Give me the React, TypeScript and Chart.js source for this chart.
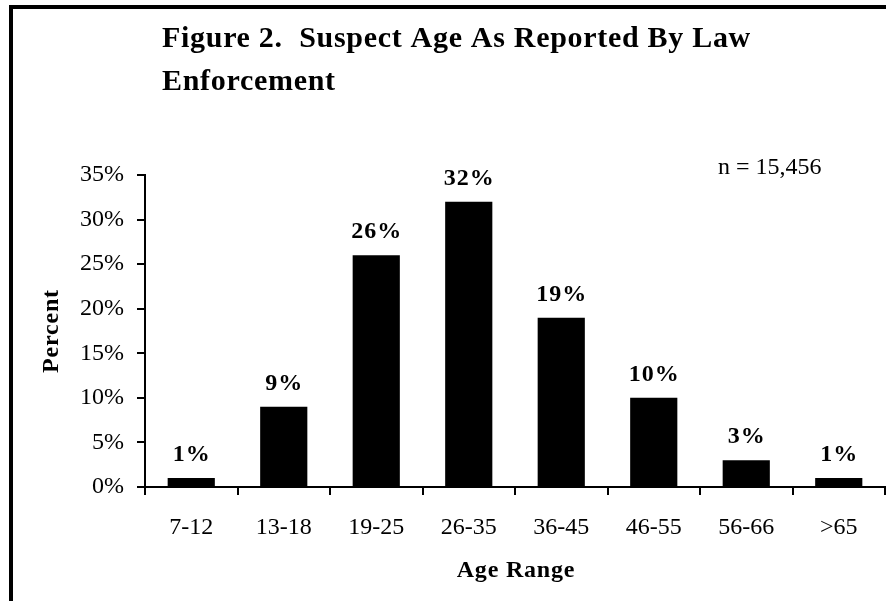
import React, { useEffect, useRef } from "react";
import { Chart, registerables } from "chart.js";

Chart.register(...registerables);

const categories = ["7-12", "13-18", "19-25", "26-35", "36-45", "46-55", "56-66", ">65"];
const percents = [1, 9, 26, 32, 19, 10, 3, 1];
const yMin = 0;
const yMax = 35;
const yStep = 5;
const titleLines = ["Figure 2.  Suspect Age As Reported By Law", "Enforcement"];
const sampleNote = "n = 15,456";
const xAxisTitle = "Age Range";
const yAxisTitle = "Percent";

const SERIF = '"Liberation Serif", "Times New Roman", serif';

const decorPlugin = {
  id: "decor",
  beforeDraw(chart: any) {
    const ctx = chart.ctx;
    ctx.save();
    ctx.fillStyle = "#fff";
    ctx.fillRect(0, 0, chart.width, chart.height);
    ctx.restore();
  },
  afterDatasetsDraw(chart: any) {
    const ctx = chart.ctx;
    const meta = chart.getDatasetMeta(0);
    ctx.save();
    ctx.fillStyle = "#000";
    ctx.font = `bold 24px ${SERIF}`;
    (ctx as any).letterSpacing = "1px";
    ctx.textAlign = "center";
    ctx.textBaseline = "alphabetic";
    meta.data.forEach((bar: any, i: number) => {
      ctx.fillText(percents[i] + "%", bar.x + 0.5, bar.y - 17);
    });
    ctx.restore();
  },
  afterDraw(chart: any) {
    const ctx = chart.ctx;
    const area = chart.chartArea;
    ctx.save();
    ctx.fillStyle = "#000";
    // frame (cut off at right and bottom)
    ctx.fillRect(9, 5, 4, chart.height - 5);
    ctx.fillRect(9, 5, chart.width - 9, 4);
    // title
    ctx.font = `bold 30px ${SERIF}`;
    (ctx as any).letterSpacing = "0.7px";
    ctx.textAlign = "left";
    ctx.textBaseline = "alphabetic";
    ctx.fillText(titleLines[0], 162, 47);
    ctx.fillText(titleLines[1], 162, 90);
    // sample note
    (ctx as any).letterSpacing = "0px";
    ctx.font = `24px ${SERIF}`;
    ctx.fillText(sampleNote, 718, 174);
    // x axis title
    ctx.font = `bold 24px ${SERIF}`;
    (ctx as any).letterSpacing = "0.8px";
    ctx.textAlign = "center";
    ctx.fillText(xAxisTitle, (area.left + area.right) / 2 + 1, 577);
    // y axis title
    ctx.translate(58, (area.top + area.bottom) / 2);
    ctx.rotate(-Math.PI / 2);
    ctx.fillText(yAxisTitle, 0, 0);
    ctx.restore();
  },
};

export default function App() {
  const canvasRef = useRef<HTMLCanvasElement | null>(null);

  useEffect(() => {
    const canvas = canvasRef.current;
    if (!canvas) return;
    const chart = new Chart(canvas, {
      type: "bar",
      data: {
        labels: categories,
        datasets: [
          {
            data: percents,
            backgroundColor: "#000",
            borderWidth: 0,
            barPercentage: 0.51,
            categoryPercentage: 1.0,
          },
        ],
      },
      options: {
        responsive: false,
        animation: false,
        devicePixelRatio: 1,
        layout: { padding: { top: 175, right: 1, left: 0, bottom: 0 } },
        plugins: {
          legend: { display: false },
          tooltip: { enabled: false },
          title: { display: false },
        },
        scales: {
          x: {
            afterFit: (scale: any) => {
              scale.height = 114;
            },
            grid: {
              offset: true,
              drawOnChartArea: false,
              drawTicks: true,
              tickLength: 8,
              color: "#000",
              lineWidth: 2,
            },
            border: { display: true, color: "#000", width: 2 },
            ticks: {
              color: "#000",
              font: { family: SERIF, size: 24 },
              padding: 18,
              maxRotation: 0,
            },
          },
          y: {
            min: yMin,
            max: yMax,
            afterFit: (scale: any) => {
              scale.width = 145;
            },
            grid: {
              drawOnChartArea: false,
              drawTicks: true,
              tickLength: 8,
              color: "#000",
              lineWidth: 2,
            },
            border: { display: true, color: "#000", width: 2 },
            ticks: {
              stepSize: yStep,
              color: "#000",
              font: { family: SERIF, size: 24 },
              padding: 13,
              callback: (v: any) => v + "%",
            },
          },
        },
      },
      plugins: [decorPlugin],
    });
    return () => chart.destroy();
  }, []);

  return (
    <div style={{ position: "fixed", left: 0, top: 0, width: 886, height: 601, background: "#fff" }}>
      <canvas ref={canvasRef} width={886} height={601} style={{ display: "block", width: 886, height: 601 }} />
    </div>
  );
}
